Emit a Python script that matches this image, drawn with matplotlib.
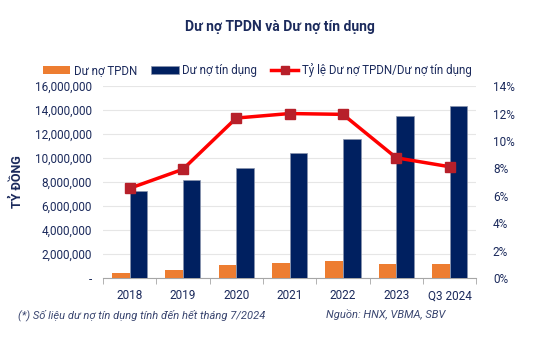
import numpy as np
import matplotlib.pyplot as plt
from matplotlib.ticker import FuncFormatter, FixedLocator

years = ["2018", "2019", "2020", "2021", "2022", "2023", "Q3 2024"]
tpdn = [450000, 640000, 1060000, 1250000, 1390000, 1190000, 1170000]
credit = [7240000, 8200000, 9180000, 10420000, 11600000, 13500000, 14340000]
ratio = [6.54, 7.93, 11.67, 12.0, 11.94, 8.77, 8.12]

navy_txt = "#1b2a5c"
plt.rcParams["font.family"] = ["Roboto", "DejaVu Sans"]

fig = plt.figure(figsize=(5.59, 3.53), dpi=100)
ax = fig.add_axes([0.184, 0.2125, 0.668, 0.5435])
x = np.arange(len(years))
w = 0.33
b1 = ax.bar(x - w / 2, tpdn, w, color="#ED7D31", label="Dư nợ TPDN", zorder=3)
b2 = ax.bar(x + w / 2, credit, w, color="#002060", edgecolor="#8a94ad", linewidth=0.5,
            label="Dư nợ tín dụng", zorder=3)
ax.set_xlim(-0.5, len(years) - 0.5)
ax.set_ylim(0, 16000000)
ax.set_yticks(np.arange(0, 16000001, 2000000))
ax.yaxis.set_major_formatter(FuncFormatter(lambda v, p: "-" if v == 0 else f"{v:,.0f}"))
ax.grid(axis="y", color="#e6e6e6", linewidth=0.8, zorder=0)
for s in ["left", "right", "top"]:
    ax.spines[s].set_visible(False)
ax.spines["bottom"].set_color("#a6a6a6")
ax.set_xticks(x)
ax.set_xticklabels(years)
ax.xaxis.set_minor_locator(FixedLocator(np.arange(-0.5, len(years), 1)))
ax.tick_params(axis="x", which="major", length=0, labelsize=8.5, labelcolor=navy_txt, pad=8)
ax.tick_params(axis="x", which="minor", length=4, color="#a6a6a6")
ax.tick_params(axis="y", length=0, labelsize=8.5, labelcolor=navy_txt, pad=8)
ax.set_ylabel("TỶ ĐỒNG", fontsize=9, fontweight="bold", color=navy_txt, labelpad=8)

ax2 = ax.twinx()
l1, = ax2.plot(x, ratio, color="#FF0000", linewidth=2.5, marker="s", markersize=7,
               markerfacecolor="#B7202A", markeredgecolor="#B7202A",
               label="Tỷ lệ Dư nợ TPDN/Dư nợ tín dụng", zorder=4)
ax2.set_ylim(0, 14)
ax2.set_yticks(np.arange(0, 15, 2))
ax2.yaxis.set_major_formatter(FuncFormatter(lambda v, p: f"{v:.0f}%"))
ax2.tick_params(axis="y", length=0, labelsize=8.5, labelcolor=navy_txt, pad=12)
for s in ["left", "right", "top", "bottom"]:
    ax2.spines[s].set_visible(False)

fig.text(0.5, 0.923, "Dư nợ TPDN và Dư nợ tín dụng", ha="center", va="center",
         fontsize=10, fontweight="bold", color=navy_txt)
leg = fig.legend([b1, b2, l1], [b1.get_label(), b2.get_label(), l1.get_label()],
                 loc="center", bbox_to_anchor=(0.46, 0.802), ncol=3, frameon=False,
                 fontsize=8.3, handlelength=2.4, handleheight=0.7, columnspacing=1.2,
                 handletextpad=0.3, labelcolor=navy_txt, markerscale=0.8)
fig.text(0.032, 0.108, "(*) Số liệu dư nợ tín dụng tính đến hết tháng 7/2024",
         fontsize=8, style="italic", color="#3a4670", va="center")
fig.text(0.583, 0.108, "Nguồn: HNX, VBMA, SBV", fontsize=8, style="italic",
         color="#3a4670", va="center")

fig.savefig("out.png", dpi=100)
